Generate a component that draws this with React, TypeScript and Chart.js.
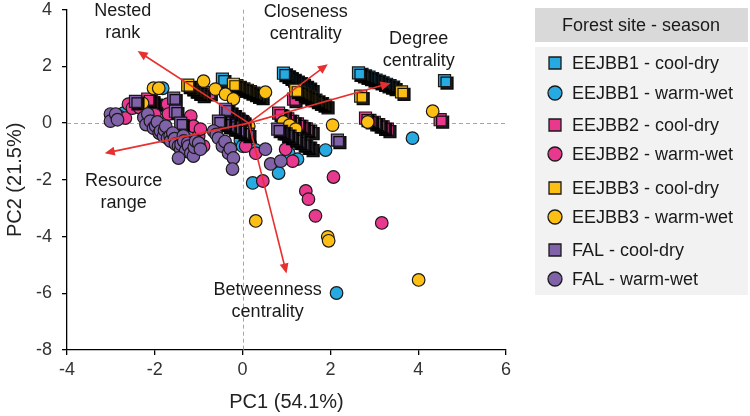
import React, { useEffect, useRef } from 'react';
import { Chart, registerables } from 'chart.js';

Chart.register(...registerables);

type P = [number, number];

const FONT = 'Liberation Sans, Arial, sans-serif';

const seriesNames = [
  'EEJBB1 - cool-dry',
  'EEJBB1 - warm-wet',
  'EEJBB2 - cool-dry',
  'EEJBB2 - warm-wet',
  'EEJBB3 - cool-dry',
  'EEJBB3 - warm-wet',
  'FAL - cool-dry',
  'FAL - warm-wet',
];
const seriesColors = ['#27aae1', '#27aae1', '#e8398f', '#e8398f', '#fdbf14', '#fdbf14', '#8062a8', '#8062a8'];
const seriesShapes = ['rect', 'circle', 'rect', 'circle', 'rect', 'circle', 'rect', 'circle'];

const eejbb1CoolDry: P[] = [
  [1.55, 1.2], [1.48, 1.26], [1.41, 1.33], [1.34, 1.39], [1.27, 1.45], [1.2, 1.51], [1.13, 1.57], [1.07, 1.63], [1.0, 1.7], [0.93, 1.76],
  [3.44, 1.27], [3.36, 1.32], [3.28, 1.37], [3.2, 1.42], [3.12, 1.47], [3.04, 1.52], [2.96, 1.57], [2.88, 1.62], [2.8, 1.67], [2.72, 1.72], [2.64, 1.77],
  [-0.46, 1.55], [4.6, 1.5],
];
const eejbb1WarmWet: P[] = [
  [-2.71, 0.35], [-2.1, 0.3], [-1.82, 1.23], [-1.87, 0.53], [-1.15, -0.25], [-1.6, -0.55], [-0.05, -0.6], [0.0, -0.81],
  [0.18, -0.74], [0.3, -0.95], [0.23, -2.11], [0.82, -1.76], [1.05, -1.06], [1.25, -1.27], [1.89, -0.95], [3.87, -0.53], [2.14, -5.99],
];
const eejbb2CoolDry: P[] = [
  [-2.02, 0.72], [-2.08, 0.78], [-2.16, 0.85], [-0.77, 1.08], [1.16, 0.85],
  [1.55, -0.28], [1.45, -0.2], [1.35, -0.11], [1.25, -0.03], [1.14, 0.06], [1.03, 0.15], [0.92, 0.25], [0.82, 0.35],
  [3.3, -0.21], [3.2, -0.13], [3.1, -0.05], [3.0, 0.03], [2.9, 0.1], [2.8, 0.18],
  [4.5, 0.12],
];
const eejbb2WarmWet: P[] = [
  [-2.82, 0.25], [-2.67, 0.18], [-2.6, 0.67], [-2.51, 0.53], [-2.35, 0.55], [-2.0, 0.3], [-1.71, 0.67], [-1.69, 0.32],
  [-1.45, -0.35], [-1.3, -0.55], [-1.18, 0.25], [-1.12, -0.11], [-1.0, -0.45], [-0.96, -0.21], [-0.89, -0.81],
  [0.07, -0.81], [0.3, -1.06], [0.46, -2.04], [0.98, -0.92], [1.14, -1.34], [2.07, -1.9], [1.44, -2.39], [1.5, -2.68],
  [1.66, -3.27], [3.17, -3.52],
];
const eejbb3CoolDry: P[] = [
  [-0.93, 1.02], [-1.01, 1.1], [-1.09, 1.18], [-1.17, 1.26], [-1.25, 1.34],
  [0.41, 0.95], [0.33, 1.0], [0.26, 1.06], [0.18, 1.11], [0.11, 1.16], [0.03, 1.21], [-0.05, 1.26], [-0.13, 1.32], [-0.21, 1.37],
  [1.89, 0.63], [1.82, 0.69], [1.74, 0.75], [1.67, 0.81], [1.59, 0.87], [1.52, 0.92], [1.44, 0.98], [1.37, 1.04], [1.29, 1.1], [1.21, 1.16],
  [2.69, 0.95], [3.62, 1.1],
];
const eejbb3WarmWet: P[] = [
  [-2.28, 0.7], [-2.03, 1.23], [-1.91, 1.23], [-0.89, 1.48], [-0.62, 1.2], [-0.39, 1.02], [-0.21, 0.85], [0.52, 1.09],
  [0.0, 0.0], [0.05, 0.07], [0.14, -0.11], [0.93, 0.04], [1.07, -0.07], [1.21, -0.21], [2.05, -0.07], [2.85, 0.04],
  [4.33, 0.42], [0.3, -3.45], [1.94, -4.01], [1.96, -4.15], [4.01, -5.53],
];
const falCoolDry: P[] = [
  [-2.44, 0.77], [-1.57, 0.88], [-1.53, 0.42], [-1.41, 0.0],
  [0.0, 0.05], [-0.08, 0.14], [-0.16, 0.23], [-0.24, 0.32], [-0.31, 0.4], [-0.39, 0.49],
  [0.11, -0.39], [0.0, -0.32], [-0.11, -0.24], [-0.22, -0.16], [-0.33, -0.08], [-0.44, 0.0], [-0.55, 0.07],
  [1.55, -0.88], [1.46, -0.8], [1.37, -0.72], [1.27, -0.63], [1.18, -0.55], [1.08, -0.46], [0.99, -0.38], [0.89, -0.29], [0.8, -0.21],
  [2.16, -0.6],
];
const falWarmWet: P[] = [
  [-3.01, 0.32], [-3.01, 0.07], [-2.89, 0.32], [-2.85, 0.12],
  [-2.25, 0.2], [-2.2, -0.05], [-2.16, 0.32], [-2.1, 0.07], [-2.03, -0.18], [-1.98, -0.1], [-1.94, 0.04], [-1.9, -0.35],
  [-1.87, -0.28], [-1.8, -0.46], [-1.78, -0.25], [-1.75, -0.11], [-1.71, -0.53], [-1.65, -0.45], [-1.64, -0.63], [-1.59, -0.35],
  [-1.55, -0.55], [-1.53, -0.74], [-1.46, -0.81], [-1.41, -0.92], [-1.4, -0.75], [-1.35, -0.45], [-1.34, -0.63], [-1.3, -0.99],
  [-1.25, -0.7], [-1.23, -0.81], [-1.18, -1.06], [-1.12, -1.16], [-1.1, -0.85], [-1.07, -0.63], [-1.0, -0.7], [-0.96, -0.92],
  [-1.46, -1.23],
  [-0.66, -0.28], [-0.6, -0.4], [-0.55, -0.53], [-0.46, -0.81], [-0.4, -0.65], [-0.32, -1.06], [-0.28, -0.9], [-0.21, -1.23],
  [-0.23, -1.62], [0.52, -0.92], [0.64, -1.44], [0.87, -1.34],
];

const seriesData: P[][] = [
  eejbb1CoolDry, eejbb1WarmWet, eejbb2CoolDry, eejbb2WarmWet,
  eejbb3CoolDry, eejbb3WarmWet, falCoolDry, falWarmWet,
];

const xTickValues = [-4, -2, 0, 2, 4, 6];
const yTickValues = [-8, -6, -4, -2, 0, 2, 4];

const arrowOrigin: P = [0.14, 0];
const loadingNames: string[][] = [
  ['Nested', 'rank'],
  ['Closeness', 'centrality'],
  ['Degree', 'centrality'],
  ['Resource', 'range'],
  ['Betweenness', 'centrality'],
];
const loadingEnds: P[] = [[-2.39, 2.54], [1.94, 2.08], [3.37, 1.41], [-3.14, -1.06], [1.0, -5.3]];
const loadingLabelAt: P[] = [[-2.73, 3.55], [1.44, 3.54], [4.01, 2.57], [-2.71, -2.43], [0.57, -6.27]];

function drawMarker(ctx: CanvasRenderingContext2D, shape: string, x: number, y: number, color: string) {
  ctx.beginPath();
  if (shape === 'rect') ctx.rect(x - 6, y - 6, 12, 12);
  else ctx.arc(x, y, 7, 0, Math.PI * 2);
  ctx.fillStyle = color;
  ctx.fill();
  ctx.lineWidth = 1.3;
  ctx.strokeStyle = '#1a1a1a';
  ctx.stroke();
}

const shadowPlugin = {
  id: 'squareShadow',
  beforeDatasetDraw(chart: any, args: any) {
    const ds = chart.data.datasets[args.index];
    if (ds.pointStyle === 'rect') {
      const ctx = chart.ctx;
      ctx.save();
      ctx.shadowColor = 'rgba(0,0,0,0.9)';
      ctx.shadowOffsetX = 2.5;
      ctx.shadowOffsetY = 2.5;
      ctx.shadowBlur = 0;
    }
  },
  afterDatasetDraw(chart: any, args: any) {
    const ds = chart.data.datasets[args.index];
    if (ds.pointStyle === 'rect') chart.ctx.restore();
  },
};

const overlayPlugin = {
  id: 'overlay',
  beforeDatasetsDraw(chart: any) {
    const { ctx, chartArea } = chart;
    const xs = chart.scales.x;
    const ys = chart.scales.y;
    const x0 = xs.getPixelForValue(0);
    const y0 = ys.getPixelForValue(0);
    ctx.save();
    ctx.strokeStyle = '#a6a6a6';
    ctx.lineWidth = 1;
    ctx.setLineDash([4, 3]);
    ctx.beginPath();
    ctx.moveTo(Math.round(x0) + 0.5, chartArea.top);
    ctx.lineTo(Math.round(x0) + 0.5, chartArea.bottom);
    ctx.moveTo(chartArea.left, Math.round(y0) + 0.5);
    ctx.lineTo(chartArea.right, Math.round(y0) + 0.5);
    ctx.stroke();
    ctx.restore();
  },
  afterDatasetsDraw(chart: any) {
    const { ctx } = chart;
    const xs = chart.scales.x;
    const ys = chart.scales.y;
    const ox = xs.getPixelForValue(arrowOrigin[0]);
    const oy = ys.getPixelForValue(arrowOrigin[1]);
    ctx.save();
    const red = '#e8302e';
    loadingEnds.forEach(([ex0, ey0]) => {
      const ex = xs.getPixelForValue(ex0);
      const ey = ys.getPixelForValue(ey0);
      const a = Math.atan2(ey - oy, ex - ox);
      const hl = 10;
      const hw = 4.5;
      ctx.strokeStyle = red;
      ctx.lineWidth = 1.6;
      ctx.beginPath();
      ctx.moveTo(ox, oy);
      ctx.lineTo(ex - Math.cos(a) * (hl - 1), ey - Math.sin(a) * (hl - 1));
      ctx.stroke();
      ctx.fillStyle = red;
      ctx.beginPath();
      ctx.moveTo(ex, ey);
      const bx = ex - Math.cos(a) * hl;
      const by = ey - Math.sin(a) * hl;
      ctx.lineTo(bx + Math.sin(a) * hw, by - Math.cos(a) * hw);
      ctx.lineTo(bx - Math.sin(a) * hw, by + Math.cos(a) * hw);
      ctx.closePath();
      ctx.fill();
    });
    ctx.fillStyle = '#1a1a1a';
    ctx.font = `18px ${FONT}`;
    ctx.textAlign = 'center';
    ctx.textBaseline = 'middle';
    loadingNames.forEach((lines, i) => {
      const lx = xs.getPixelForValue(loadingLabelAt[i][0]);
      const ly = ys.getPixelForValue(loadingLabelAt[i][1]);
      ctx.fillText(lines[0], lx, ly - 11);
      ctx.fillText(lines[1], lx, ly + 11);
    });
    ctx.restore();
  },
  afterDraw(chart: any) {
    const { ctx } = chart;
    ctx.save();
    ctx.fillStyle = '#d9d9d9';
    ctx.fillRect(535, 8, 213, 34);
    ctx.fillStyle = '#f2f2f2';
    ctx.fillRect(535, 47, 213, 248);
    ctx.fillStyle = '#1a1a1a';
    ctx.font = `18px ${FONT}`;
    ctx.textBaseline = 'middle';
    ctx.textAlign = 'center';
    ctx.fillText('Forest site - season', 641, 26);
    const rows = [63, 93, 125, 154, 188, 217, 250, 279];
    ctx.textAlign = 'left';
    seriesNames.forEach((name, i) => {
      drawMarker(ctx, seriesShapes[i], 555, rows[i], seriesColors[i]);
      ctx.fillStyle = '#1a1a1a';
      ctx.fillText(name, 572, rows[i] + 1);
    });
    ctx.restore();
  },
};

export default function App() {
  const ref = useRef<HTMLCanvasElement>(null);
  useEffect(() => {
    if (!ref.current) return;
    const chart = new Chart(ref.current, {
      type: 'scatter',
      data: {
        datasets: seriesData.map((pts, i) => ({
          label: seriesNames[i],
          data: pts.map(([x, y]) => ({ x, y })),
          pointStyle: seriesShapes[i] as any,
          pointRadius: seriesShapes[i] === 'rect' ? 8.5 : 6.3,
          pointHoverRadius: seriesShapes[i] === 'rect' ? 8.5 : 6.3,
          backgroundColor: seriesColors[i],
          borderColor: '#1a1a1a',
          borderWidth: 1.2,
          order: 8 - i,
        })),
      },
      options: {
        responsive: false,
        animation: false,
        events: [],
        layout: { padding: { top: 9, right: 244, bottom: 0, left: 0 } },
        plugins: { legend: { display: false }, tooltip: { enabled: false } },
        scales: {
          x: {
            type: 'linear',
            min: -4,
            max: 6,
            afterBuildTicks: (s: any) => { s.ticks = xTickValues.map((v) => ({ value: v })); },
            afterFit: (s: any) => { s.height = 66; },
            grid: { drawOnChartArea: false, drawTicks: true, tickLength: 5, color: '#000', lineWidth: 1.3 },
            border: { color: '#000', width: 1.3 },
            ticks: { font: { family: FONT, size: 18 }, color: '#333', padding: 4, maxRotation: 0 },
            title: { display: true, text: 'PC1 (54.1%)', font: { family: FONT, size: 20 }, color: '#222', padding: { top: 0, bottom: 2 } },
          },
          y: {
            type: 'linear',
            min: -8,
            max: 4,
            afterBuildTicks: (s: any) => { s.ticks = yTickValues.map((v) => ({ value: v })); },
            afterFit: (s: any) => { s.width = 67; s.paddingTop = 0; s.paddingBottom = 0; },
            grid: { drawOnChartArea: false, drawTicks: true, tickLength: 5, color: '#000', lineWidth: 1.3 },
            border: { color: '#000', width: 1.3 },
            ticks: { font: { family: FONT, size: 18 }, color: '#333', padding: 10 },
            title: { display: true, text: 'PC2 (21.5%)', font: { family: FONT, size: 20 }, color: '#222', padding: { top: 3, bottom: 0 } },
          },
        },
      } as any,
      plugins: [shadowPlugin, overlayPlugin],
    });
    return () => chart.destroy();
  }, []);
  return (
    <div style={{ position: 'absolute', left: 0, top: 0, width: 750, height: 416, background: '#fff' }}>
      <canvas ref={ref} width={750} height={416} style={{ width: 750, height: 416, display: 'block' }} />
    </div>
  );
}
